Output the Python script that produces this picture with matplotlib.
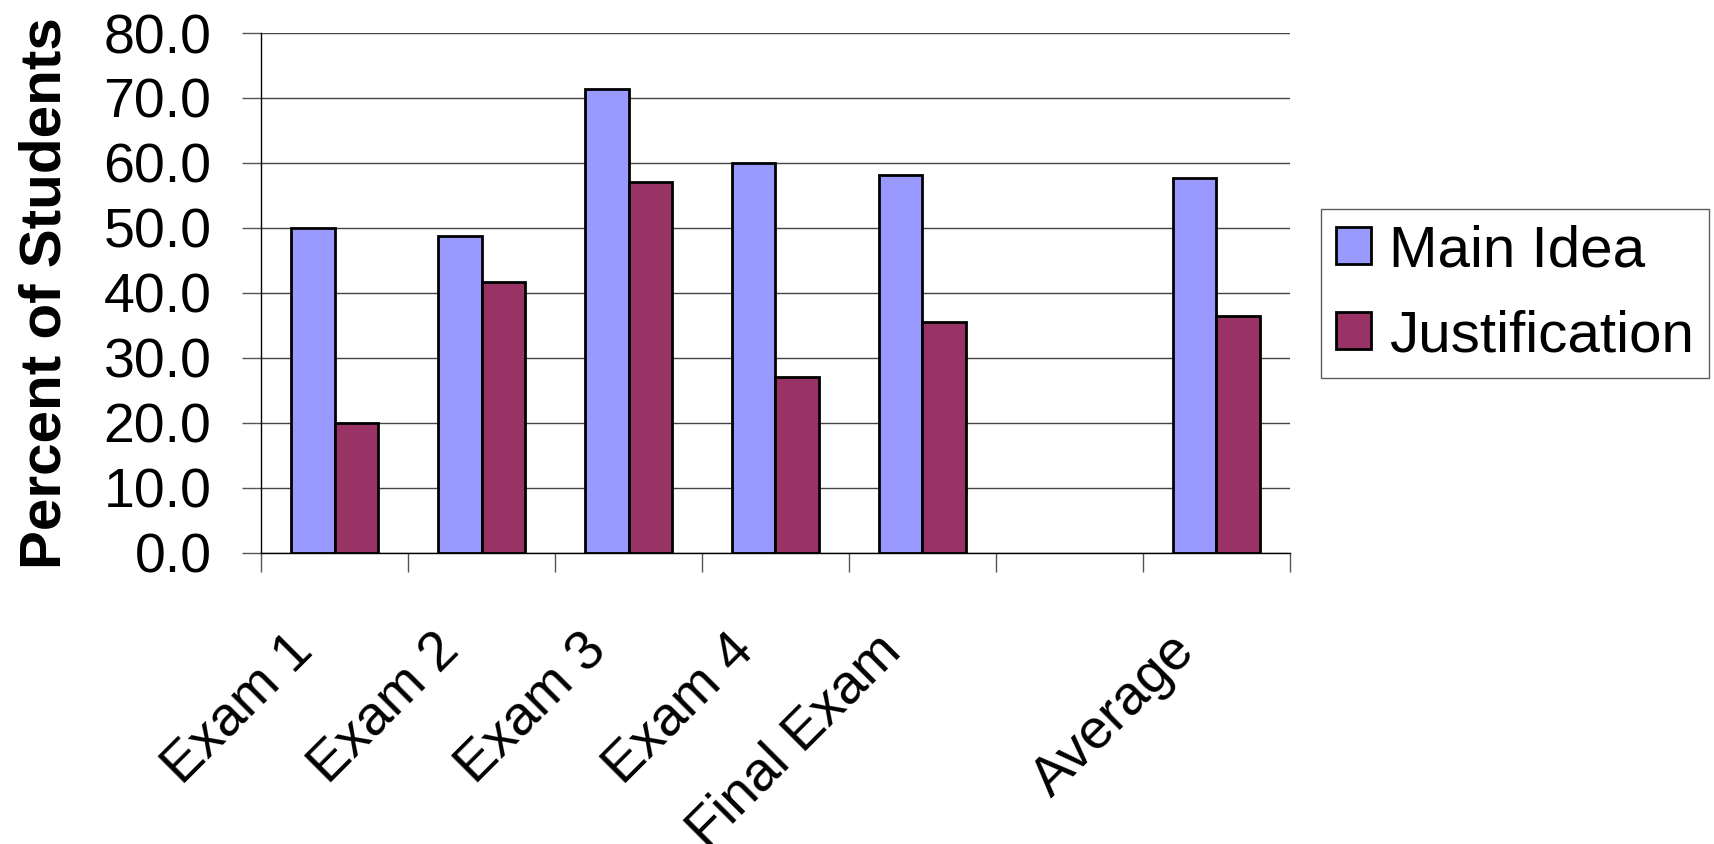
import matplotlib.pyplot as plt
import matplotlib.transforms as mtransforms
import numpy as np

plt.rcParams['font.family'] = ['Liberation Sans', 'DejaVu Sans']

categories = ['Exam 1', 'Exam 2', 'Exam 3', 'Exam 4', 'Final Exam', '', 'Average']
main_idea = [50.0, 48.7, 71.4, 60.0, 58.1, np.nan, 57.7]
justification = [20.0, 41.7, 57.1, 27.0, 35.5, np.nan, 36.4]
y_ticks = [0, 10, 20, 30, 40, 50, 60, 70, 80]


def main():
    fig = plt.figure(figsize=(17.14, 8.44), dpi=100)
    ax = fig.add_axes([0.1523, 0.3448, 0.6003, 0.6161])

    x = np.arange(len(categories))
    w = 0.295
    ax.bar(x - w / 2, main_idea, w, color='#9999FF', edgecolor='black',
           linewidth=2, label='Main Idea', zorder=3)
    ax.bar(x + w / 2, justification, w, color='#993366', edgecolor='black',
           linewidth=2, label='Justification', zorder=3)

    ax.set_xlim(-0.5, len(categories) - 0.5)
    ax.set_ylim(0, 80)
    ax.set_yticks(y_ticks)
    ax.set_yticklabels(['%.1f' % v for v in y_ticks])
    ax.yaxis.grid(True, color='#444444', linewidth=1.0, zorder=0)
    ax.set_axisbelow(True)

    for side in ('top', 'right'):
        ax.spines[side].set_visible(False)
    ax.spines['left'].set_linewidth(1.0)
    ax.spines['bottom'].set_linewidth(1.0)

    ax.tick_params(axis='y', labelsize=40, length=13.7, width=1.0,
                   color='#555555', pad=22)

    # category boundaries get the ticks, labels sit at the centres
    ax.set_xticks(np.arange(-0.5, len(categories), 1.0), minor=True)
    ax.set_xticks(x)
    ax.tick_params(axis='x', which='minor', length=13.7, width=1.0,
                   color='#555555')
    ax.tick_params(axis='x', which='major', length=0, pad=72, labelsize=40)
    ax.set_xticklabels(categories, rotation=45, ha='right', va='baseline',
                       rotation_mode='anchor')
    shift = mtransforms.ScaledTranslation(-0.2, 0, fig.dpi_scale_trans)
    for lab in ax.get_xticklabels():
        lab.set_transform(lab.get_transform() + shift)

    ax.set_ylabel('Percent of Students', fontsize=42, fontweight='bold')
    ax.yaxis.set_label_coords(-0.1837, 0.5)

    leg = ax.legend(loc='upper left', bbox_to_anchor=(0.7707, 0.7524),
                    bbox_transform=fig.transFigure, fontsize=42,
                    frameon=True, fancybox=False, borderaxespad=0,
                    borderpad=0.26, labelspacing=0.53, handlelength=0.6,
                    handleheight=0.6, handletextpad=0.3)
    leg.get_frame().set_edgecolor('#333333')
    leg.get_frame().set_linewidth(1.0)

    fig.savefig('out.png', dpi=100)


if __name__ == '__main__':
    main()
